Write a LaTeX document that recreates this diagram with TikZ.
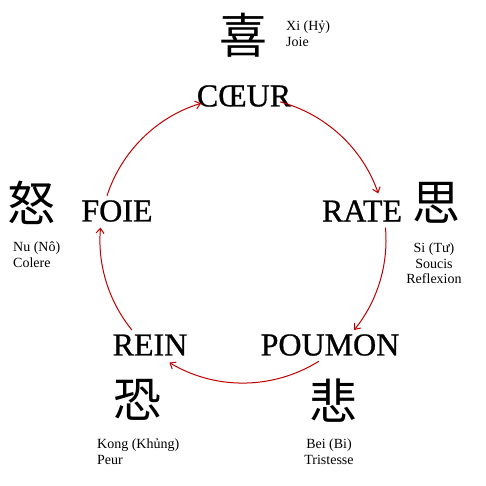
\documentclass[tikz,border=0pt]{standalone}
\usepackage{fontspec}
\setmainfont{Liberation Serif}
\newfontfamily\organfont[FakeBold=0.8]{Liberation Serif}
\newfontfamily\cjk{Noto Sans CJK SC}
\usetikzlibrary{arrows.meta}
\definecolor{flowred}{RGB}{192,0,0}
\begin{document}
\begin{tikzpicture}[x=1pt,y=-1pt,
 organ/.style={font=\organfont\fontsize{32}{32}\selectfont, inner sep=0pt},
 hanzi/.style={font=\cjk\fontsize{48}{48}\selectfont, inner sep=0pt},
 note/.style={font=\fontsize{14}{15.5}\selectfont, inner sep=0pt},
 flow/.style={draw=flowred, line width=1pt, -{Straight Barb[length=5pt,width=8pt]}}]
\path[use as bounding box, fill=white] (0,0) rectangle (486,486);
% main labels
\node[hanzi] (xi) at (243,35) {喜};
\node[organ] (coeur) at (244,96) {CŒUR};
\node[hanzi] (nu) at (31,203) {怒};
\node[organ] (foie) at (117,211) {FOIE};
\node[organ] (rate) at (362,211) {RATE};
\node[hanzi] (si) at (436,203) {思};
\node[organ] (poumon) at (330,345) {POUMON};
\node[organ] (rein) at (150,345) {REIN};
\node[hanzi] (bei) at (333,401) {悲};
\node[hanzi] (kong) at (137,400) {恐};
% notes
\node[note, anchor=north west, align=left] (xinote) at (286,21) {Xi (Hỷ)\\Joie};
\node[note, anchor=north west, align=left] (nunote) at (13,242) {Nu (Nô)\\Colere};
\node[note, anchor=north, align=center] (sinote) at (434,243) {Si (Tư)\\Soucis\\Reflexion};
\node[note, anchor=north, align=center] (beinote) at (329,439) {Bei (Bi)\\Tristesse};
\node[note, anchor=north west, align=left] (kongnote) at (97,439) {Kong (Khủng)\\Peur};
% cycle
\coordinate (O) at (243,240);
\coordinate (c1) at ([shift={(-75:143)}]O);
\coordinate (c2) at ([shift={(-5:143)}]O);
\coordinate (c3) at ([shift={(58:143)}]O);
\coordinate (c4) at ([shift={(141:143)}]O);
\coordinate (c5) at ([shift={(-162:143)}]O);
\draw[flow] (c1) arc[start angle=-75,end angle=-19,radius=143];
\draw[flow] (c2) arc[start angle=-5,end angle=39,radius=143];
\draw[flow] (c3) arc[start angle=58,end angle=121,radius=143];
\draw[flow] (c4) arc[start angle=141,end angle=185,radius=143];
\draw[flow] (c5) arc[start angle=-162,end angle=-107,radius=143];
\end{tikzpicture}
\end{document}
